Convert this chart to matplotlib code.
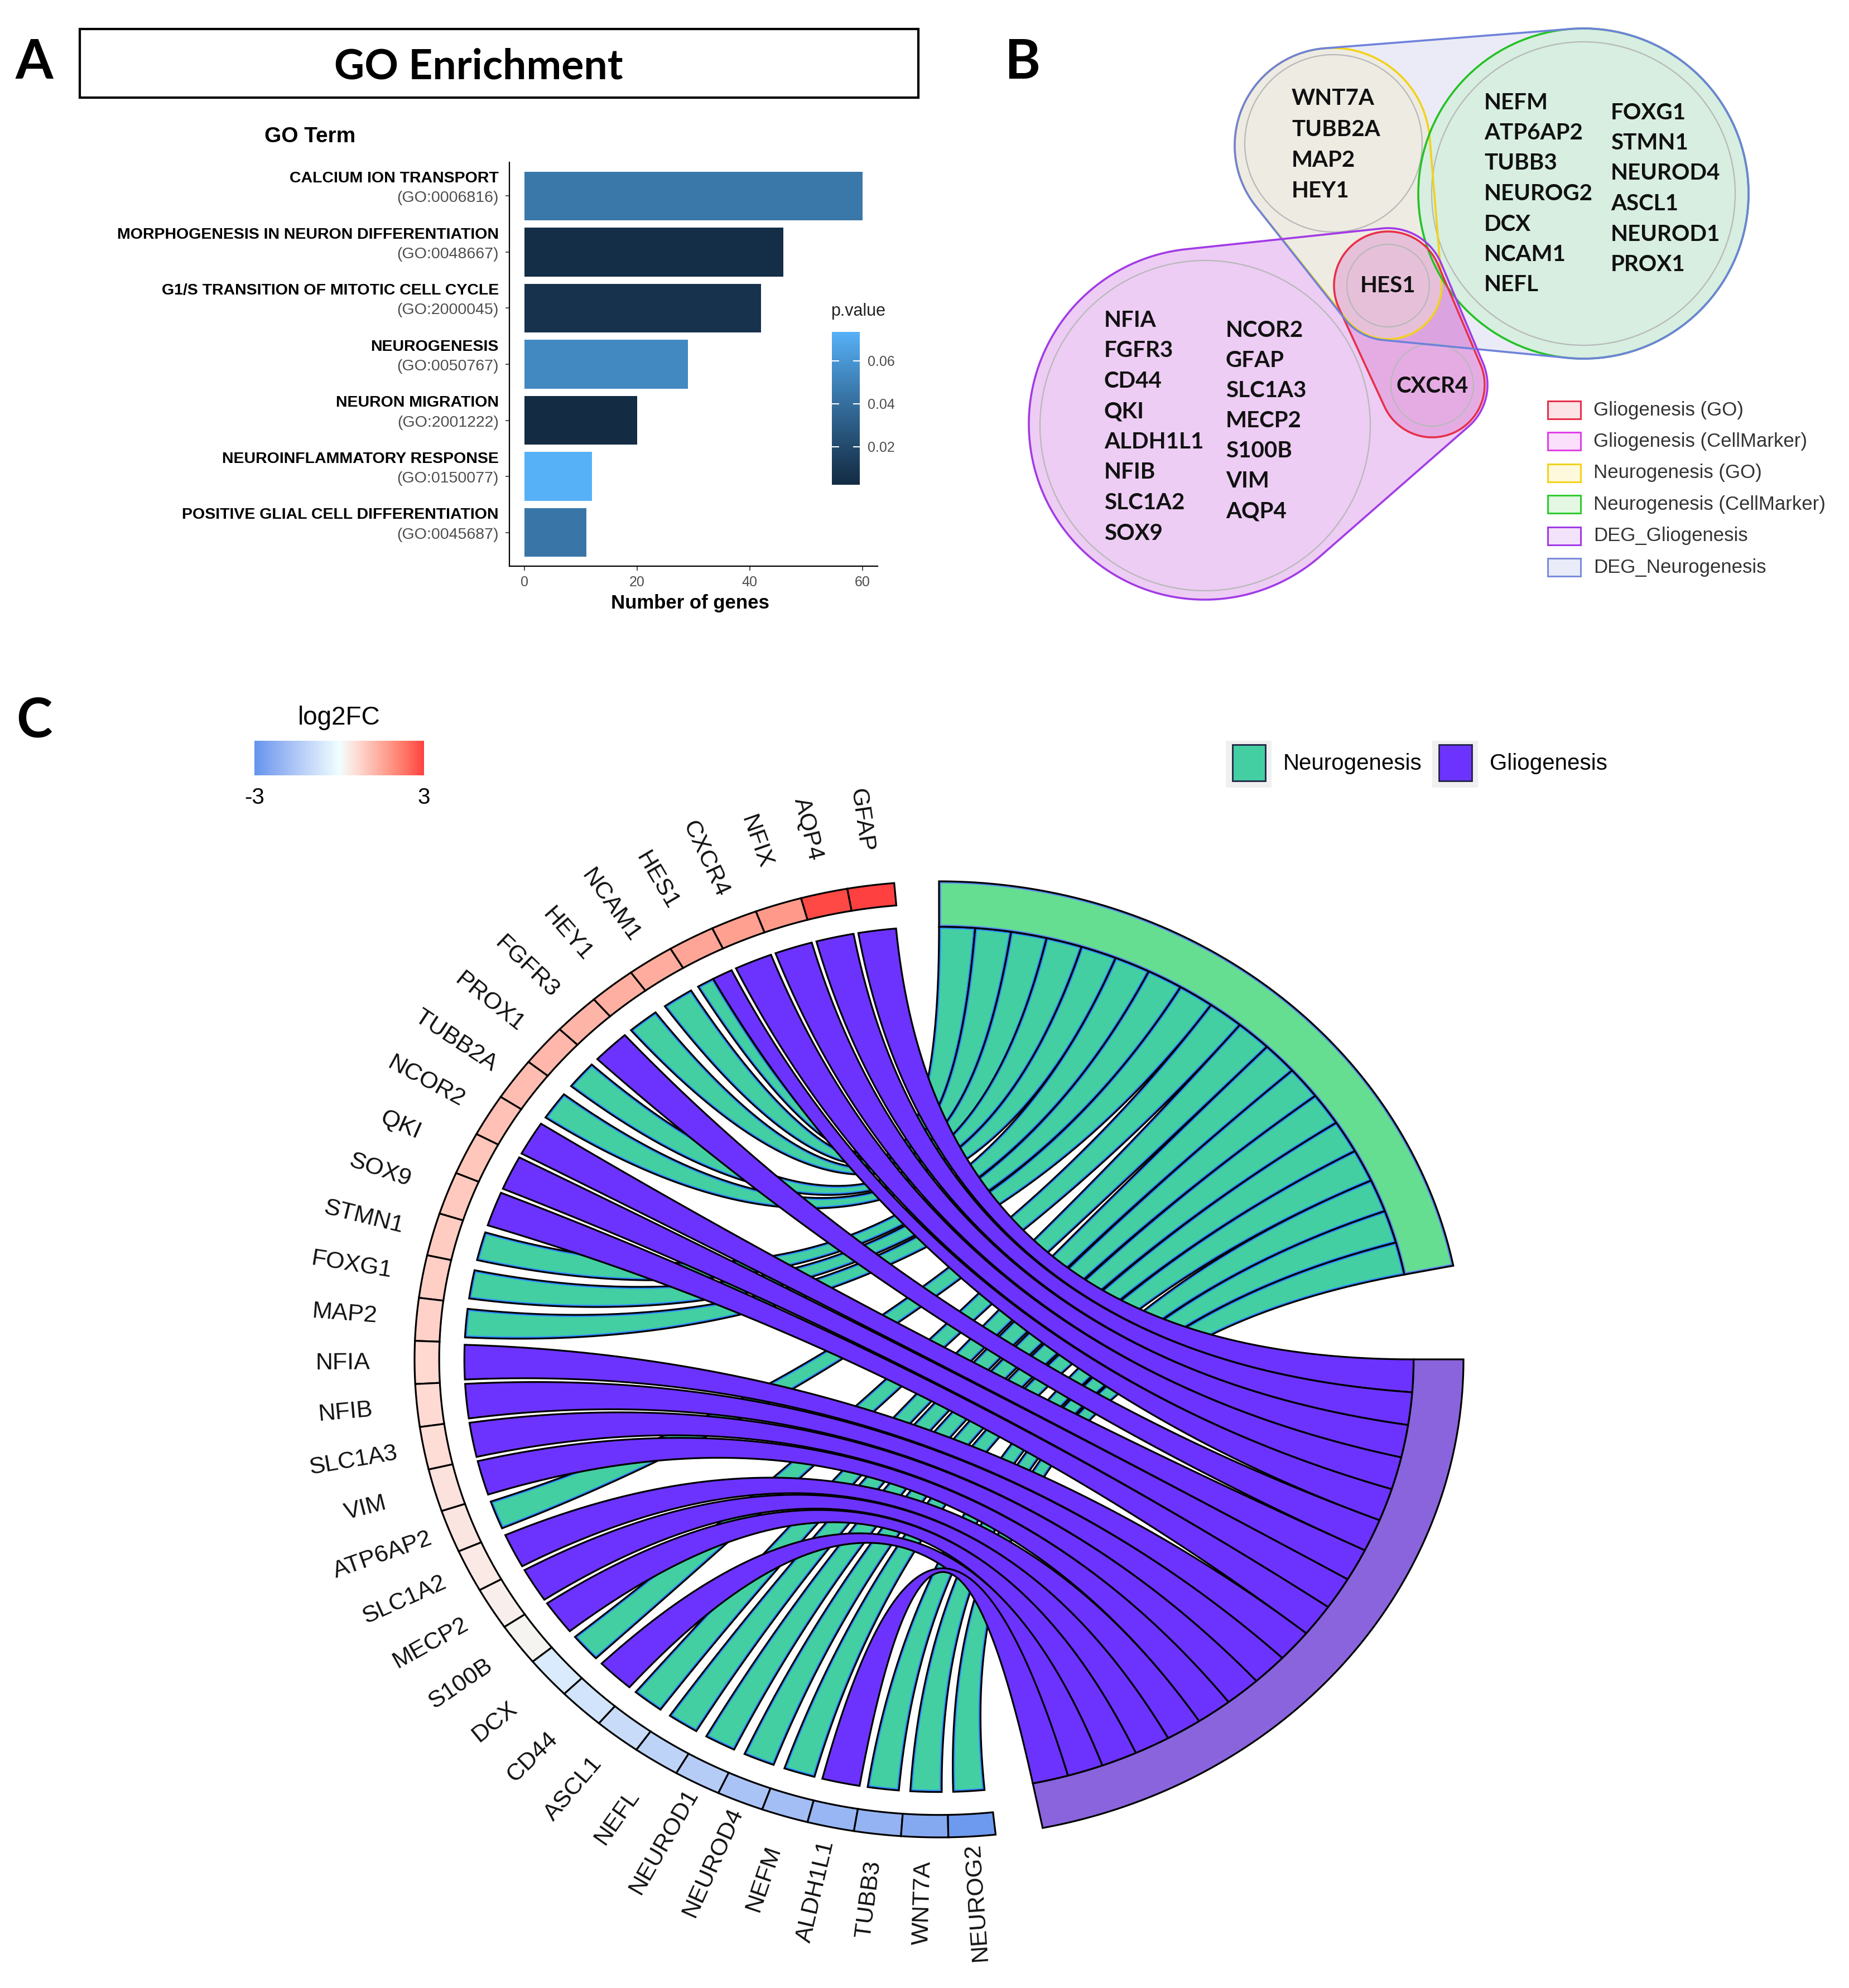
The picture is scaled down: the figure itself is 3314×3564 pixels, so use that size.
import numpy as np
import matplotlib
matplotlib.use("Agg")
import matplotlib.pyplot as plt
from matplotlib.patches import Polygon, Rectangle, Circle
from matplotlib.colors import ListedColormap, Normalize, to_rgb
import matplotlib.cm as cm

plt.rcParams['font.family'] = ['Liberation Sans', 'DejaVu Sans']

# ---------------- data ----------------
go_terms = ["CALCIUM ION TRANSPORT", "MORPHOGENESIS IN NEURON DIFFERENTIATION",
            "G1/S TRANSITION OF MITOTIC CELL CYCLE", "NEUROGENESIS", "NEURON MIGRATION",
            "NEUROINFLAMMATORY RESPONSE", "POSITIVE GLIAL CELL DIFFERENTIATION"]
go_ids = ["GO:0006816", "GO:0048667", "GO:2000045", "GO:0050767", "GO:2001222",
          "GO:0150077", "GO:0045687"]
go_counts = [60, 46, 42, 29, 20, 12, 11]
go_pvals = [0.045, 0.004, 0.007, 0.054, 0.0023, 0.0735, 0.044]
count_ticks = [0, 20, 40, 60]
p_ticks = [0.02, 0.04, 0.06]

venn_neuro_go = ["WNT7A", "TUBB2A", "MAP2", "HEY1"]
venn_neuro_cm_a = ["NEFM", "ATP6AP2", "TUBB3", "NEUROG2", "DCX", "NCAM1", "NEFL"]
venn_neuro_cm_b = ["FOXG1", "STMN1", "NEUROD4", "ASCL1", "NEUROD1", "PROX1"]
venn_glio_a = ["NFIA", "FGFR3", "CD44", "QKI", "ALDH1L1", "NFIB", "SLC1A2", "SOX9"]
venn_glio_b = ["NCOR2", "GFAP", "SLC1A3", "MECP2", "S100B", "VIM", "AQP4"]
venn_shared = ["HES1", "CXCR4"]
venn_legend = ["Gliogenesis (GO)", "Gliogenesis (CellMarker)", "Neurogenesis (GO)",
               "Neurogenesis (CellMarker)", "DEG_Gliogenesis", "DEG_Neurogenesis"]

chord_genes = ["GFAP", "AQP4", "NFIX", "CXCR4", "HES1", "NCAM1", "HEY1", "FGFR3", "PROX1",
               "TUBB2A", "NCOR2", "QKI", "SOX9", "STMN1", "FOXG1", "MAP2", "NFIA", "NFIB",
               "SLC1A3", "VIM", "ATP6AP2", "SLC1A2", "MECP2", "S100B", "DCX", "CD44", "ASCL1",
               "NEFL", "NEUROD1", "NEUROD4", "NEFM", "ALDH1L1", "TUBB3", "WNT7A", "NEUROG2"]
chord_log2fc = [3.0, 2.9, 1.75, 1.65, 1.55, 1.45, 1.4, 1.3, 1.25, 1.15, 1.1, 1.0, 0.95, 0.9,
                0.85, 0.8, 0.7, 0.65, 0.6, 0.5, 0.45, 0.38, 0.3, 0.2, -0.55, -0.75, -0.95,
                -1.2, -1.4, -1.65, -1.8, -2.0, -2.1, -2.4, -2.85]
chord_terms = ["Neurogenesis", "Gliogenesis"]
neuro_genes = ["HES1", "NCAM1", "HEY1", "PROX1", "TUBB2A", "STMN1", "FOXG1", "MAP2", "ATP6AP2",
               "DCX", "ASCL1", "NEFL", "NEUROD1", "NEUROD4", "NEFM", "TUBB3", "WNT7A", "NEUROG2"]
glio_genes = ["GFAP", "AQP4", "NFIX", "CXCR4", "HES1", "FGFR3", "NCOR2", "QKI", "SOX9", "NFIA",
              "NFIB", "SLC1A3", "VIM", "SLC1A2", "MECP2", "S100B", "CD44", "ALDH1L1"]
lfc_ticks = [-3, 3]


# ---------------- Lab-interpolated colormaps (ggplot-like) ----------------
_M = np.array([[0.4124, 0.3576, 0.1805], [0.2126, 0.7152, 0.0722], [0.0193, 0.1192, 0.9505]])
_WP = np.array([0.95047, 1.0, 1.08883])


def _to_lab(rgb):
    c = np.array(rgb, float)
    lin = np.where(c <= 0.04045, c / 12.92, ((c + 0.055) / 1.055) ** 2.4)
    xyz = _M @ lin / _WP
    f = np.where(xyz > 0.008856, np.cbrt(xyz), 7.787 * xyz + 16 / 116)
    return np.array([116 * f[1] - 16, 500 * (f[0] - f[1]), 200 * (f[1] - f[2])])


def _from_lab(lab):
    L, a, b = lab
    fy = (L + 16) / 116
    fx = fy + a / 500
    fz = fy - b / 200
    f = np.array([fx, fy, fz])
    xyz = np.where(f ** 3 > 0.008856, f ** 3, (f - 16 / 116) / 7.787) * _WP
    lin = np.linalg.solve(_M, xyz)
    lin = np.clip(lin, 0, 1)
    c = np.where(lin <= 0.0031308, 12.92 * lin, 1.055 * lin ** (1 / 2.4) - 0.055)
    return np.clip(c, 0, 1)


def lab_cmap(hexes, n=256):
    labs = [_to_lab(to_rgb(h)) for h in hexes]
    pos = np.linspace(0, 1, len(labs))
    out = []
    for t in np.linspace(0, 1, n):
        j = min(np.searchsorted(pos, t, side='right') - 1, len(labs) - 2)
        u = (t - pos[j]) / (pos[j + 1] - pos[j])
        out.append(_from_lab(labs[j] * (1 - u) + labs[j + 1] * u))
    return ListedColormap(out)


# ---------------- figure ----------------
W, H = 3314, 3564
fig = plt.figure(figsize=(W / 100, H / 100), dpi=100)
ov = fig.add_axes([0, 0, 1, 1])
ov.set_xlim(0, W)
ov.set_ylim(H, 0)
ov.axis('off')
LATO = ['Lato', 'DejaVu Sans']

# ======== Panel A ========
ov.text(61, 141, 'A', fontsize=70, weight='bold', family=LATO, ha='center', va='baseline')
ov.add_patch(Rectangle((143, 52), 1503, 123, fill=False, lw=3.0, ec='black'))
ov.text(858, 141, 'GO Enrichment', fontsize=54, weight='bold', family=LATO, ha='center', va='baseline')
ov.text(556, 245, 'GO Term', fontsize=28, weight='bold', ha='center', va='center')

cmapP = lab_cmap(['#132B43', '#56B1F7'])
normP = Normalize(vmin=0.0023, vmax=0.0735)

axA = fig.add_axes([913 / W, 1 - 1015 / H, 660 / W, (1015 - 291) / H])
axA.set_facecolor('none')
ypos = np.arange(len(go_terms))
axA.barh(ypos, go_counts, height=0.87, color=cmapP(normP(np.array(go_pvals))))
axA.set_ylim(len(go_terms) - 0.4, -0.6)
axA.set_xlim(-2.67, 62.7)
for s in ['top', 'right']:
    axA.spines[s].set_visible(False)
for s in ['left', 'bottom']:
    axA.spines[s].set_linewidth(1.6)
axA.set_xticks(count_ticks)
axA.set_xticklabels([str(v) for v in count_ticks])
axA.set_yticks(ypos)
axA.set_yticklabels([])
axA.tick_params(axis='x', labelsize=18, labelcolor='#4D4D4D', color='#333333', length=6, width=1.2, pad=6)
axA.tick_params(axis='y', color='#333333', length=5, width=1.2)
tr = axA.get_yaxis_transform()
for i, (t, gid) in enumerate(zip(go_terms, go_ids)):
    axA.text(-0.029, i - 0.31, t, transform=tr, ha='right', va='center', fontsize=20.5, weight='bold')
    axA.text(-0.029, i + 0.04, '(' + gid + ')', transform=tr, ha='right', va='center', fontsize=20.5, color='#4D4D4D')
ov.text(1237, 1081, 'Number of genes', fontsize=25, weight='bold', ha='center', va='center')

cax = fig.add_axes([1491 / W, 1 - 869 / H, 50 / W, 274 / H])
cb = fig.colorbar(cm.ScalarMappable(norm=normP, cmap=cmapP), cax=cax, ticks=p_ticks)
cb.outline.set_visible(False)
cb.ax.set_yticklabels([f'{v:.2f}' for v in p_ticks])
cax.yaxis.set_ticks_position('both')
cax.tick_params(direction='in', color='white', length=9, width=1.5, labelsize=18,
                labelcolor='#4D4D4D', pad=10, labelleft=False, labelright=True)
fig.text(1489 / W, 1 - 558 / H, 'p.value', fontsize=22, ha='left', va='center', color='#222222')

# ======== Panel B (Venn) ========
ov.text(1832, 141, 'B', fontsize=70, weight='bold', family=LATO, ha='center', va='baseline')


def circ_pts(cx, cy, r, n=360):
    t = np.linspace(0, 2 * np.pi, n, endpoint=False)
    return np.column_stack([cx + r * np.cos(t), cy + r * np.sin(t)])


def hull(points):
    pts = sorted(map(tuple, points))

    def cross(o, a, b):
        return (a[0] - o[0]) * (b[1] - o[1]) - (a[1] - o[1]) * (b[0] - o[0])
    lower = []
    for p in pts:
        while len(lower) >= 2 and cross(lower[-2], lower[-1], p) <= 0:
            lower.pop()
        lower.append(p)
    upper = []
    for p in reversed(pts):
        while len(upper) >= 2 and cross(upper[-2], upper[-1], p) <= 0:
            upper.pop()
        upper.append(p)
    return np.array(lower[:-1] + upper[:-1])


def hull_circles(circs):
    return hull(np.vstack([circ_pts(*c) for c in circs]))


c_beige = (2388, 261, 175)
c_green = (2838, 347, 296)
c_pink = (2159, 760, 315)
c_hes = (2488, 512, 97)
c_cx4 = (2567, 690, 94)

blue_h = hull_circles([c_beige, c_green, (2488, 512, 98)])
purple_h = hull_circles([c_pink, (2488, 512, 103), (2567, 690, 99)])
yellow_h = hull_circles([c_beige, (2488, 512, 96)])
red_h = hull_circles([c_hes, c_cx4])

ov.add_patch(Polygon(blue_h, closed=True, fc='#EBEBF7', ec='none', zorder=1))
ov.add_patch(Polygon(purple_h, closed=True, fc='#C45CDD', alpha=0.3, ec='none', zorder=2))
ov.add_patch(Polygon(yellow_h, closed=True, fc='#EEEBE3', ec='none', zorder=3))
ov.add_patch(Circle(c_green[:2], c_green[2], fc='#D7EEE1', ec='none', zorder=3))
ov.add_patch(Polygon(red_h, closed=True, fc='#D870C8', alpha=0.35, ec='none', zorder=4))
for (x, y, r) in [(2390, 257, 159), (2838, 347, 272), (2160, 763, 296), (2488, 512, 74), (2567, 690, 74)]:
    ov.add_patch(Circle((x, y), r, fill=False, ec='#B8B8B8', lw=1.6, zorder=5))
ov.add_patch(Polygon(yellow_h, closed=True, fill=False, ec='#F2D21B', lw=2.6, zorder=6))
ov.add_patch(Circle(c_green[:2], c_green[2], fill=False, ec='#24C224', lw=2.6, zorder=6))
ov.add_patch(Polygon(red_h, closed=True, fill=False, ec='#E8304A', lw=2.6, zorder=7))
ov.add_patch(Polygon(blue_h, closed=True, fill=False, ec='#6F82DA', lw=2.6, zorder=8))
ov.add_patch(Polygon(purple_h, closed=True, fill=False, ec='#A23BE6', lw=2.6, zorder=8))

vkw = dict(fontsize=29, weight='bold', family=LATO, va='center', color='#111111', zorder=10)
for k, g in enumerate(venn_neuro_go):
    ov.text(2315, 177 + 55.3 * k, g, ha='left', **vkw)
for k, g in enumerate(venn_neuro_cm_a):
    ov.text(2660, 184 + 54.5 * k, g, ha='left', **vkw)
for k, g in enumerate(venn_neuro_cm_b):
    ov.text(2887, 202 + 54.5 * k, g, ha='left', **vkw)
for k, g in enumerate(venn_glio_a):
    ov.text(1979, 574 + 54.6 * k, g, ha='left', **vkw)
for k, g in enumerate(venn_glio_b):
    ov.text(2197, 592 + 54.2 * k, g, ha='left', **vkw)
ov.text(2488, 513, venn_shared[0], ha='center', **vkw)
ov.text(2567, 692, venn_shared[1], ha='center', **vkw)

leg_fc = ['#FBE3E6', '#FBE0FB', '#FEF9DC', '#E3F7E3', '#F3E3FA', '#E9ECF8']
leg_ec = ['#E8304A', '#E040E8', '#F2D21B', '#30CC30', '#A23BE6', '#7C8CDC']
for k, lab in enumerate(venn_legend):
    yc = 735 + 56.4 * k
    ov.add_patch(Rectangle((2774, yc - 16), 59, 32, fc=leg_fc[k], ec=leg_ec[k], lw=2.2, zorder=10))
    ov.text(2856, yc, lab, fontsize=25, ha='left', va='center', color='#333333', zorder=10)

# ======== Panel C (chord) ========
ov.text(61, 1322, 'C', fontsize=70, weight='bold', family=LATO, ha='center', va='baseline')

cmapFC = lab_cmap(['#6495ED', '#F0FFFF', '#FF4040'])
normFC = Normalize(vmin=-3, vmax=3)

# log2FC legend
ov.text(608, 1287, 'log2FC', fontsize=33, ha='center', va='center')
grad = np.linspace(0, 1, 256)[None, :]
ov.imshow(grad, cmap=cmapFC, extent=(456, 760, 1390, 1328), aspect='auto', zorder=5)
ov.text(456, 1430, str(lfc_ticks[0]), fontsize=29, ha='center', va='center')
ov.text(760, 1430, str(lfc_ticks[1]), fontsize=29, ha='center', va='center')
ov.set_xlim(0, W)
ov.set_ylim(H, 0)

RIB_COL = {'Neurogenesis': '#43CFA2', 'Gliogenesis': '#6C33FF'}
RING_COL = {'Neurogenesis': '#66DE92', 'Gliogenesis': '#8964DD'}
for k, (term, x0) in enumerate(zip(chord_terms, [2197, 2567])):
    ov.add_patch(Rectangle((x0, 1328), 82, 84, fc='#F0F0F0', ec='none'))
    ov.add_patch(Rectangle((x0 + 12, 1335), 59, 65, fc=RIB_COL[term], ec='#222244', lw=2))
    ov.text(x0 + 103, 1369, term, fontsize=29, ha='left', va='center')

RX, RY = 940.0, 857.0
CX, CY = 1683.0, 2437.0
axC = fig.add_axes([0, 0, 1, (H - 1250) / H])
axC.set_xlim(-CX / RX, (W - CX) / RX)
axC.set_ylim((CY - H) / RY, (CY - 1250) / RY)
axC.axis('off')

R0, RG, R1 = 0.905, 0.953, 1.0
N = len(chord_genes)
GENE_A0, GENE_A1 = 94.9, 276.2
STEP = (GENE_A1 - GENE_A0) / N
TERM_SPAN = {'Neurogenesis': (90.0, 11.3), 'Gliogenesis': (0.0, -78.6)}
term_members = {'Neurogenesis': neuro_genes, 'Gliogenesis': glio_genes}
RIB_W = {'Neurogenesis': 3.8, 'Gliogenesis': 4.6}


def pol(r, a):
    a = np.radians(a)
    return np.array([r * np.cos(a), r * np.sin(a)])


def arc(r, a0, a1, n=40):
    t = np.radians(np.linspace(a0, a1, n))
    return np.column_stack([r * np.cos(t), r * np.sin(t)])


def bez(p0, p2, n=80):
    t = np.linspace(0, 1, n)[:, None]
    return (1 - t) ** 2 * p0 + t ** 2 * p2


gene_side = {}
for i, g in enumerate(chord_genes):
    a = GENE_A0 + i * STEP
    c = a + STEP / 2
    ins = [t for t in chord_terms if g in term_members[t]]
    if len(ins) == 1:
        w = RIB_W[ins[0]]
        gene_side[(g, ins[0])] = (c - w / 2, c + w / 2)
    elif len(ins) == 2:
        gene_side[(g, 'Gliogenesis')] = (c - 2.3, c + 0.2)
        gene_side[(g, 'Neurogenesis')] = (c + 0.2, c + 2.3)

for zi, term in enumerate(chord_terms):
    tstart, tend = TERM_SPAN[term]
    mem = [g for g in chord_genes if g in term_members[term]]
    w = (tstart - tend) / len(mem)
    for k, g in enumerate(mem):
        th = tstart - k * w
        tl = tstart - (k + 1) * w
        g1, g2 = gene_side[(g, term)]
        pts = np.vstack([
            bez(pol(R0, g1), pol(R0, th)),
            arc(R0, th, tl),
            bez(pol(R0, tl), pol(R0, g2)),
            arc(R0, g2, g1),
        ])
        zo = 2 + zi
        if term == 'Neurogenesis':
            p = Polygon(pts, closed=True, fc=RIB_COL[term], ec='#2D8CFF', lw=5.5, zorder=zo)
            axC.add_patch(p)
            p.set_clip_path(p)
            axC.add_patch(Polygon(pts, closed=True, fill=False, ec='black', lw=2.3, zorder=zo))
        else:
            axC.add_patch(Polygon(pts, closed=True, fc=RIB_COL[term], ec='black', lw=2.3, zorder=zo))

for term in chord_terms:
    a0, a1 = TERM_SPAN[term]
    pts = np.vstack([arc(R1, a0, a1, 120), arc(R0, a1, a0, 120)])
    if term == 'Neurogenesis':
        p = Polygon(pts, closed=True, fc=RING_COL[term], ec='#5A8CF0', lw=5.5, zorder=6)
        axC.add_patch(p)
        p.set_clip_path(p)
        axC.add_patch(Polygon(pts, closed=True, fill=False, ec='black', lw=2.3, zorder=6))
    else:
        axC.add_patch(Polygon(pts, closed=True, fc=RING_COL[term], ec='black', lw=2.3, zorder=6))

for i, (g, v) in enumerate(zip(chord_genes, chord_log2fc)):
    a0 = GENE_A0 + i * STEP
    a1 = a0 + STEP
    pts = np.vstack([arc(R1, a0, a1, 12), arc(RG, a1, a0, 12)])
    axC.add_patch(Polygon(pts, closed=True, fc=cmapFC(normFC(v)), ec='black', lw=2.3, zorder=6))
    am = np.radians(a0 + STEP / 2)
    phi = np.degrees(np.arctan2(RY * np.sin(am), RX * np.cos(am)))
    rot = phi - 180
    axC.text(1.137 * np.cos(am), 1.137 * np.sin(am), g, rotation=rot, rotation_mode='anchor',
             ha='center', va='center', fontsize=31, color='#111111', zorder=7)

fig.savefig('out.png', dpi=100)
